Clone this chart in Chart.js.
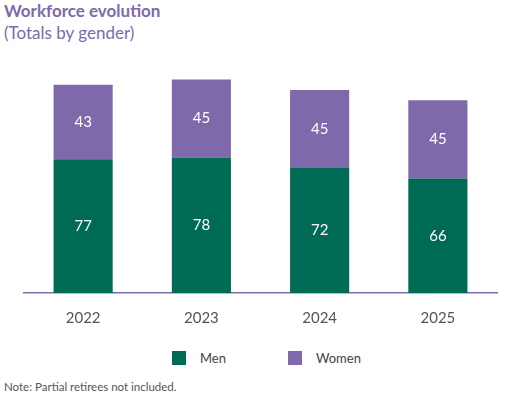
<!DOCTYPE html>
<html>
<head>
<meta charset="utf-8">
<script src="https://cdn.jsdelivr.net/npm/chart.js@4/dist/chart.umd.min.js"></script>
<style>
  body { margin: 0; background: #fff; font-family: Lato, "Open Sans", sans-serif; }
  #wrap { position: relative; width: 526px; height: 402px; }
  #title { position: absolute; left: 4px; top: 0px; color: #7e6aaa; font-weight: bold; font-size: 17px; }
  #sub { position: absolute; left: 4px; top: 22px; color: #7e6aaa; font-size: 17px; }
  #box { position: absolute; left: 0; top: 60px; width: 526px; height: 275px; }
  .leg { position: absolute; top: 350px; color: #444; font-size: 13px; line-height: 16px; }
  .leg span { display: inline-block; width: 14px; height: 14px; vertical-align: -2px; margin-right: 14px; }
  #note { position: absolute; left: 4px; top: 380px; color: #555; font-size: 11.5px; }
</style>
</head>
<body>
<div id="wrap">
  <div id="title">Workforce evolution</div>
  <div id="sub">(Totals by gender)</div>
  <div id="box"><canvas id="chart"></canvas></div>
  <div class="leg" style="left:172px"><span style="background:#006b55"></span>Men</div>
  <div class="leg" style="left:288px"><span style="background:#7e6aaa"></span>Women</div>
  <div id="note">Note: Partial retirees not included.</div>
</div>
<script>
// chart data
const years = ['2022', '2023', '2024', '2025'];
const men = [77, 78, 72, 66];
const women = [43, 45, 45, 45];

// white numbers in the middle of each bar segment
const barLabels = {
    id: 'barLabels',
    afterDatasetsDraw(chart) {
        const ctx = chart.ctx;
        ctx.save();
        ctx.fillStyle = '#fff';
        ctx.font = '15px Lato, sans-serif';
        ctx.textAlign = 'center';
        ctx.textBaseline = 'middle';
        chart.data.datasets.forEach((ds, i) => {
            chart.getDatasetMeta(i).data.forEach((bar, j) => {
                ctx.fillText(ds.data[j], bar.x, (bar.y + bar.base) / 2);
            });
        });
        ctx.restore();
    }
};

const data = {
    labels: years,
    datasets: [
        { label: 'Men', data: men, backgroundColor: '#006b55' },
        { label: 'Women', data: women, backgroundColor: '#7e6aaa' }
    ]
};

const config = {
    type: 'bar',
    data,
    options: {
        responsive: true,
        maintainAspectRatio: false,
        animation: false,
        layout: { padding: { left: 24, right: 29, top: 16 } },
        datasets: { bar: { barPercentage: 0.5, categoryPercentage: 1 } },
        scales: {
            x: {
                stacked: true,
                grid: { display: false },
                border: { color: '#7e6aaa', width: 1.5 },
                ticks: { color: '#555', padding: 8, font: { size: 15, family: 'Lato' } }
            },
            y: { stacked: true, display: false, min: 0, max: 125 }
        },
        plugins: {
            legend: { display: false },
            tooltip: { enabled: false }
        }
    },
    plugins: [barLabels]
};

new Chart(document.getElementById('chart'), config);
</script>
</body>
</html>
